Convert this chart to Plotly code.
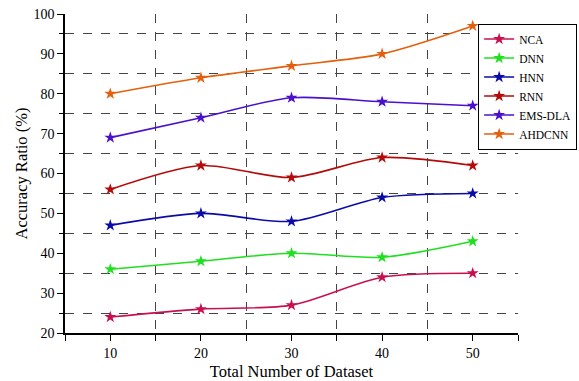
import plotly.graph_objects as go

x_vals = [10, 20, 30, 40, 50]
series_names = ["NCA", "DNN", "HNN", "RNN", "EMS-DLA", "AHDCNN"]
nca = [24, 26, 27, 34, 35]
dnn = [36, 38, 40, 39, 43]
hnn = [47, 50, 48, 54, 55]
rnn = [56, 62, 59, 64, 62]
ems_dla = [69, 74, 79, 78, 77]
ahdcnn = [80, 84, 87, 90, 97]
colors = ["#c8104e", "#1ee01e", "#0a0aa8", "#b40a0a", "#4a10cc", "#e2600e"]

values = [nca, dnn, hnn, rnn, ems_dla, ahdcnn]

fig = go.Figure()
for name, ys, c in zip(series_names, values, colors):
    fig.add_trace(go.Scatter(
        x=x_vals, y=ys, name=name, mode="lines+markers",
        line=dict(color=c, width=1.6, shape="spline", smoothing=0.8),
        marker=dict(symbol="star", size=9, color=c),
    ))

font_family = "Liberation Serif"
fig.update_layout(
    width=579, height=381,
    margin=dict(l=65, r=61, t=14, b=48, autoexpand=False),
    paper_bgcolor="white", plot_bgcolor="white",
    font=dict(family=font_family, size=13, color="black"),
    showlegend=True,
    legend=dict(
        x=0.912, y=0.97, xanchor="left", yanchor="top",
        bordercolor="black", borderwidth=1, bgcolor="white",
        font=dict(family=font_family, size=11.5),
        tracegroupgap=0, itemwidth=30,
    ),
    xaxis=dict(
        range=[5, 55], tickmode="linear", tick0=10, dtick=10,
        showline=True, linecolor="black", linewidth=1.5,
        ticks="outside", ticklen=6, tickcolor="black",
        showgrid=False, zeroline=False,
        minor=dict(tick0=5, dtick=10, showgrid=True, gridcolor="#444444",
                   griddash="dash", gridwidth=1.2, ticks="outside", ticklen=6, tickcolor="black"),
        title=dict(text="Total Number of Dataset", font=dict(size=16.5), standoff=9),
        tickfont=dict(size=14),
    ),
    yaxis=dict(
        range=[20, 100], tickmode="linear", tick0=20, dtick=10,
        showline=True, linecolor="black", linewidth=1.5,
        ticks="outside", ticklen=6, tickcolor="black",
        showgrid=False, zeroline=False,
        minor=dict(tick0=25, dtick=10, showgrid=True, gridcolor="#444444",
                   griddash="dash", gridwidth=1.2, ticks="outside", ticklen=4, tickcolor="black"),
        title=dict(text="Accuracy Ratio (%)", font=dict(size=16.5), standoff=2),
        tickfont=dict(size=14),
    ),
)

fig.write_html("out.html")
